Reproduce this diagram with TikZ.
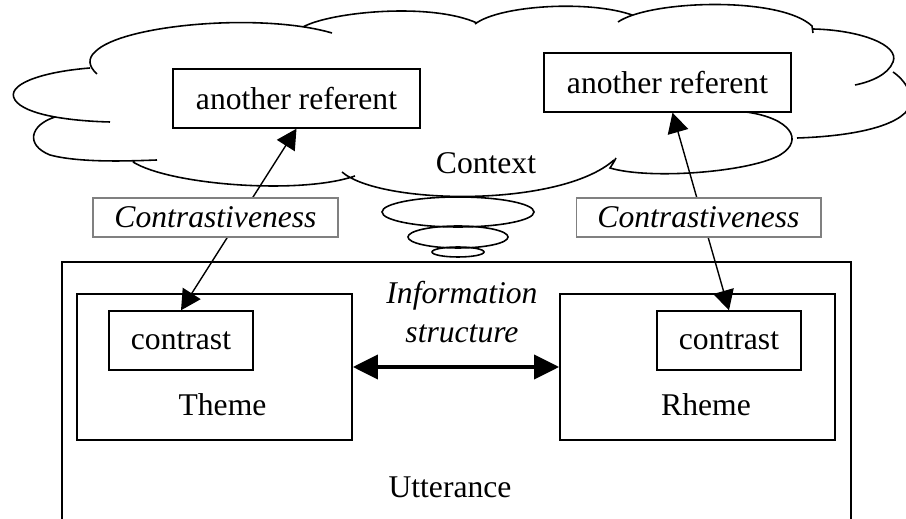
\documentclass[tikz,border=0pt]{standalone}
\usepackage{fontspec}
\setmainfont{Liberation Serif}
\usetikzlibrary{arrows.meta}

\newcommand{\boxfont}{\fontsize{18}{22.7}\selectfont}

\begin{document}
\begin{tikzpicture}[x=0.02cm, y=-0.02cm,
    every node/.style={font=\boxfont},
    refbox/.style={draw, fill=white, line width=0.8pt, minimum width=4.94cm, minimum height=1.18cm},
    labelbox/.style={draw=gray, fill=white, line width=0.6pt, font=\boxfont\itshape, minimum width=4.9cm, minimum height=0.78cm},
    partbox/.style={draw, line width=1pt, minimum width=5.5cm, minimum height=2.92cm},
    contrastbox/.style={draw, line width=0.8pt, minimum width=2.88cm, minimum height=1.18cm},
    link/.style={line width=0.8pt, >={Triangle[length=0.4cm,width=0.42cm]}, <->},
    isarrow/.style={line width=2.2pt, >={Triangle[length=0.5cm,width=0.48cm]}, <->}]

\useasboundingbox (0,0) rectangle (906,519);

% Context cloud
\draw[line width=0.9pt]
    (97,74) .. controls (88,66) and (88,58) .. (95,52) .. controls (120,25) and (260,12) .. (332,33)
    (303,27) .. controls (330,12) and (430,2) .. (477,23)
    (475,24) .. controls (500,5) and (590,0) .. (632,15)
    (618,22) .. controls (650,0) and (780,-4) .. (812,26) -- (813,33)
    (813,29) .. controls (860,30) and (900,45) .. (893,62) .. controls (888,75) and (870,82) .. (855,85)
    (893,72) .. controls (905,80) and (918,98) .. (905,113) .. controls (885,132) and (830,137) .. (797,138)
    (746,112) .. controls (790,118) and (805,140) .. (780,155) .. controls (750,172) and (650,180) .. (610,168) .. controls (612,165) and (614,162) .. (616,158)
    (342,172) .. controls (380,205) and (560,208) .. (614,160)
    (133,162) .. controls (170,185) and (300,195) .. (355,176)
    (55,117) .. controls (30,125) and (25,145) .. (50,155) .. controls (80,163) and (130,161) .. (157,160)
    (90,68) .. controls (40,72) and (5,85) .. (15,100) .. controls (25,115) and (70,121) .. (110,122);

% thought bubbles under the cloud
\foreach \y/\rx/\ry in {212/76/15, 237/50/11, 252/26/5}
    \draw[line width=0.9pt] (458,\y) ellipse [x radius=\rx, y radius=\ry];

\node (ctx) at (486,163) {Context};

% Referents in the context
\node[refbox] (refL) at (296.5,98.5) {another referent};
\node[refbox] (refR) at (667.5,82.5) {another referent};

% Utterance
\draw[line width=1pt] (62,262) rectangle (851,545);
\node (utt) at (450,487) {Utterance};

\node[partbox] (theme) at (214.5,367) {};
\node[partbox] (rheme) at (697.5,367) {};
\node[contrastbox] (cL) at (181,340.5) {contrast};
\node[contrastbox] (cR) at (729,340.5) {contrast};
\node (themeLbl) at (222.5,405) {Theme};
\node (rhemeLbl) at (706,405) {Rheme};

\draw[isarrow] (theme) -- (rheme);
\node[font=\boxfont\itshape, align=center] (info) at (462,312) {Information\\structure};

% Contrastiveness links
\draw[link] (cL.north) -- (refL.south);
\draw[link] (cR.north) -- ([xshift=0.1cm]refR.south);
\node[labelbox] (conL) at (215.5,217.5) {Contrastiveness};
\node[labelbox] (conR) at (698.5,217.5) {Contrastiveness};

\end{tikzpicture}
\end{document}
